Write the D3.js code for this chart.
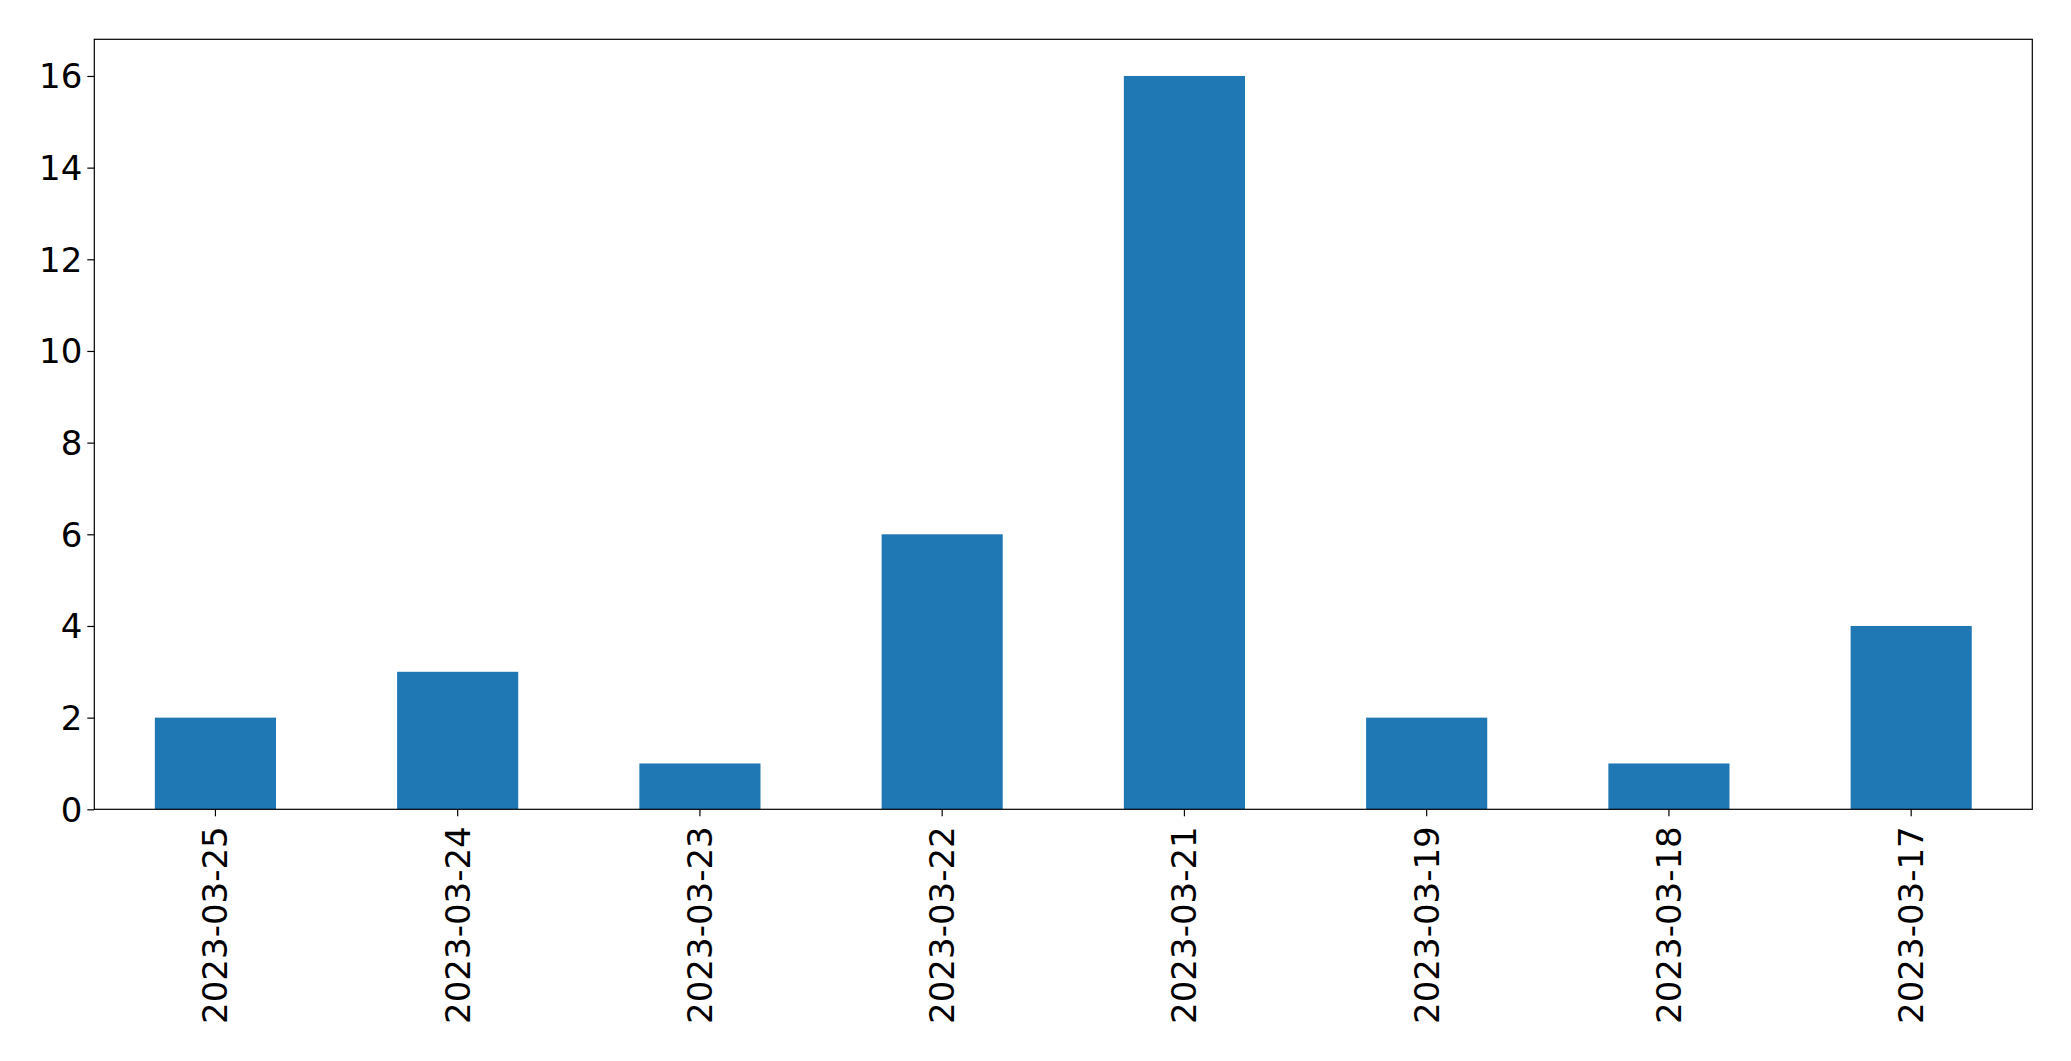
<!DOCTYPE html>
<html>
<head>
<meta charset="utf-8">
<script src="https://cdn.jsdelivr.net/npm/d3@7"></script>
<style>
  html, body { margin: 0; padding: 0; background: #ffffff; }
  svg { display: block; }
  text { font-family: "DejaVu Sans", sans-serif; fill: #000; }
</style>
</head>
<body>
<svg id="chart" width="2071" height="1061"></svg>
<script>
const categories = ["2023-03-25", "2023-03-24", "2023-03-23", "2023-03-22", "2023-03-21", "2023-03-19", "2023-03-18", "2023-03-17"];
const values = [2, 3, 1, 6, 16, 2, 1, 4];
const yTicks = [0, 2, 4, 6, 8, 10, 12, 14, 16];

const W = 2071, H = 1061;
const margin = { left: 94.3, right: W - 2032.3, top: 39.3, bottom: H - 809.3 };
const svg = d3.select("#chart");
const iw = W - margin.left - margin.right;
const ih = H - margin.top - margin.bottom;
const g = svg.append("g").attr("transform", `translate(${margin.left},${margin.top})`);

const x = d3.scaleBand().domain(categories).range([0, iw]).paddingInner(0).paddingOuter(0);
const y = d3.scaleLinear().domain([0, 16.8]).range([ih, 0]);
const barW = x.bandwidth() * 0.5;

g.selectAll("rect.bar")
  .data(categories.map((c, i) => ({ c, v: values[i] })))
  .enter().append("rect")
  .attr("class", "bar")
  .attr("x", d => x(d.c) + (x.bandwidth() - barW) / 2)
  .attr("y", d => y(d.v))
  .attr("width", barW)
  .attr("height", d => y(0) - y(d.v))
  .attr("fill", "#1f77b4");

const fontSize = 34;

const yAxis = d3.axisLeft(y).tickValues(yTicks).tickFormat(d3.format("d")).tickSize(7).tickPadding(5);
const ya = g.append("g").call(yAxis);
ya.select(".domain").remove();
ya.selectAll("line").attr("stroke", "#000").attr("stroke-width", 1.2);
ya.selectAll("text").style("font-size", fontSize + "px").attr("font-family", "DejaVu Sans").attr("dy", "0.35em");

const xAxis = d3.axisBottom(x).tickSize(7).tickPadding(0);
const xa = g.append("g").attr("transform", `translate(0,${ih})`).call(xAxis);
xa.select(".domain").remove();
xa.selectAll("line").attr("stroke", "#000").attr("stroke-width", 1.2);
xa.selectAll("text")
  .style("font-size", fontSize + "px")
  .attr("font-family", "DejaVu Sans")
  .attr("text-anchor", "end")
  .attr("transform", "translate(0,17) rotate(-90)")
  .attr("x", 0).attr("y", 0)
  .attr("dy", "0.35em");

// frame
g.append("rect")
  .attr("x", 0).attr("y", 0).attr("width", iw).attr("height", ih)
  .attr("fill", "none").attr("stroke", "#000").attr("stroke-width", 1.2);
</script>
</body>
</html>
